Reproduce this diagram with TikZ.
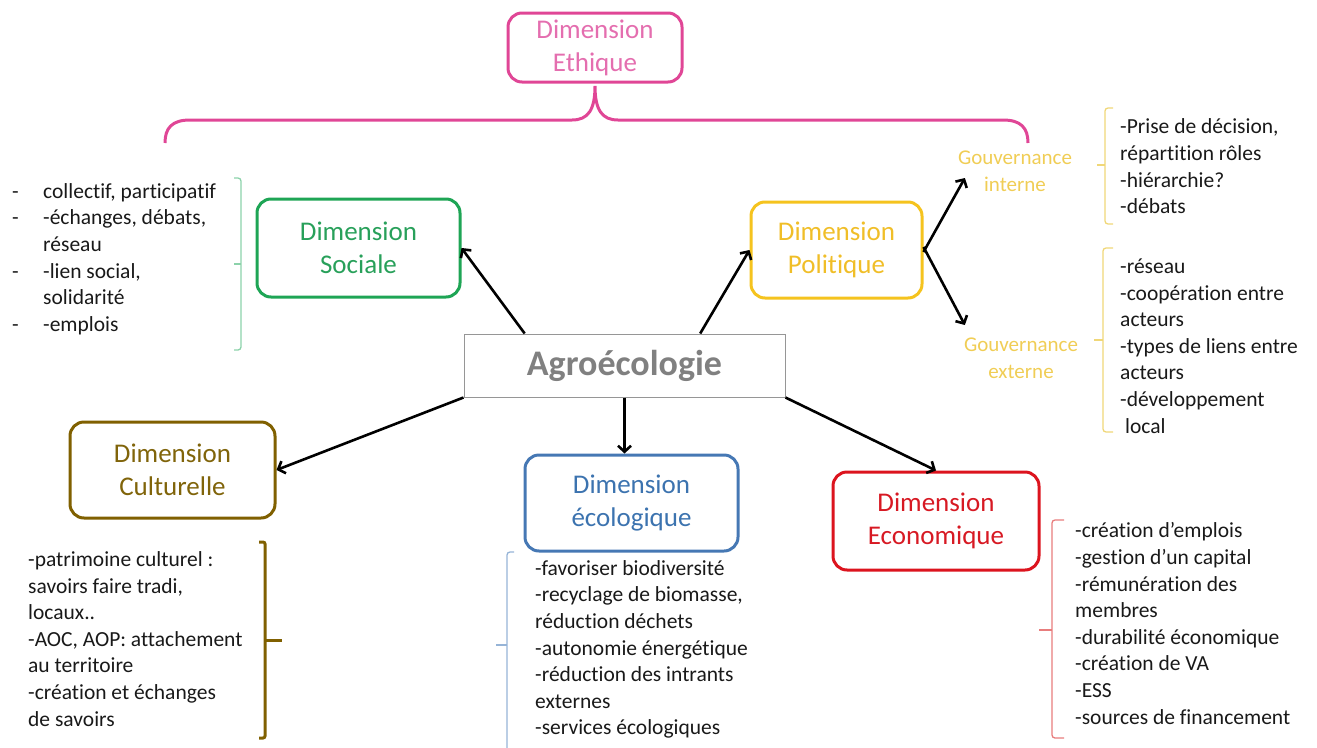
\documentclass[tikz,border=0pt]{standalone}
\usepackage{fontspec}
\setmainfont[Ligatures={NoCommon}]{Carlito}
\usetikzlibrary{arrows.meta,calc}

\definecolor{ethline}{RGB}{224,70,150}
\definecolor{ethtext}{RGB}{228,110,175}
\definecolor{socline}{RGB}{30,165,85}
\definecolor{soctext}{RGB}{40,160,90}
\definecolor{socbr}{RGB}{140,210,170}
\definecolor{polline}{RGB}{245,195,30}
\definecolor{poltext}{RGB}{240,190,40}
\definecolor{govtext}{RGB}{240,205,85}
\definecolor{polbr}{RGB}{240,215,120}
\definecolor{cultline}{RGB}{128,96,0}
\definecolor{culttext}{RGB}{128,100,10}
\definecolor{ecolline}{RGB}{70,120,180}
\definecolor{ecoltext}{RGB}{60,115,175}
\definecolor{ecolbr}{RGB}{150,180,215}
\definecolor{ecoline}{RGB}{220,20,30}
\definecolor{ecotext}{RGB}{215,25,35}
\definecolor{ecobr}{RGB}{232,125,125}
\definecolor{agroline}{RGB}{150,150,150}
\definecolor{agrotext}{RGB}{128,128,128}
\definecolor{listtext}{RGB}{25,25,25}

\newcommand{\dashitem}{\makebox[31pt][l]{-}}
\newcommand{\contitem}{\makebox[31pt][l]{}}

\begin{document}
\begin{tikzpicture}[x=1pt,y=-1pt,
  dimbox/.style={draw, rounded corners=14pt, line width=3pt, align=center,
    inner sep=0pt, font=\fontsize{27}{33}\selectfont},
  govlabel/.style={align=center, inner sep=0pt, text=govtext,
    font=\fontsize{21}{27}\selectfont},
  itemlist/.style={anchor=west, align=left, inner sep=0pt, text=listtext,
    font=\fontsize{21.5}{26.6}\selectfont},
  arr/.style={draw=black, line width=2.6pt, -{Straight Barb[length=6pt,width=13pt]}},
  lightbr/.style={line width=1.3pt, rounded corners=3pt},
]
\useasboundingbox (0,0) rectangle (1317,747);

% central concept
\node[draw=agroline, line width=1pt, minimum width=321pt, minimum height=63pt,
      inner sep=0pt, text=agrotext, font=\fontsize{36}{40}\selectfont\bfseries]
      (agro) at (624.5,365.5) {Agroécologie};

% dimensions
\node[dimbox, draw=ethline, text=ethtext, minimum width=174pt, minimum height=69pt]
      (eth) at (595,47.5) {Dimension\\Ethique};
\node[dimbox, draw=socline, text=soctext, minimum width=203pt, minimum height=98pt]
      (soc) at (358.5,248) {Dimension\\Sociale};
\node[dimbox, draw=polline, text=poltext, minimum width=171pt, minimum height=96pt]
      (pol) at (836.5,250) {Dimension\\Politique};
\node[dimbox, draw=cultline, text=culttext, minimum width=205pt, minimum height=96pt]
      (cult) at (172.5,470) {Dimension\\Culturelle};
\node[dimbox, draw=ecolline, text=ecoltext, minimum width=213pt, minimum height=96pt]
      (ecol) at (631.5,503) {Dimension\\écologique};
\node[dimbox, draw=ecoline, text=ecotext, minimum width=206pt, minimum height=98pt]
      (eco) at (936,521) {Dimension\\Economique};

% governance labels
\node[govlabel] (gint) at (1015,171) {Gouvernance\\interne};
\node[govlabel] (gext) at (1021,358) {Gouvernance\\externe};

% arrows from the central concept
\draw[arr] ($(agro.north west)!0.19!(agro.north east)$) -- (soc.east);
\draw[arr] ($(agro.north west)!0.735!(agro.north east)$) -- (pol.west);
\draw[arr] (agro.south) -- (agro.south |- ecol.north);
\draw[arr] (agro.south west) -- (cult.east);
\draw[arr] (agro.south east) -- (eco.north);
\draw[arr] ([yshift=-2pt]pol.east) -- ([shift={(7,7)}]gint.west);
\draw[arr] ([yshift=3pt]pol.east) -- ([shift={(1,-33)}]gext.west);

% ethical brace spanning the dimensions
\draw[ethline, line width=3pt]
  (165,143) .. controls (165,128) and (172,120) .. (190,120)
  -- (572,120) .. controls (588,120) and (595,110) .. (595,86)
  .. controls (595,110) and (602,120) .. (618,120)
  -- (1003,120) .. controls (1021,120) and (1028,128) .. (1028,143);

% lists
\node[itemlist] (soclist) at (12,259)
  {\dashitem collectif, participatif\\
   \dashitem -échanges, débats,\\
   \contitem réseau\\
   \dashitem -lien social,\\
   \contitem solidarité\\
   \dashitem -emplois};
\draw[socbr, lightbr] (234,178) -- (241,178) -- (241,350) -- (234,350);
\draw[socbr, lightbr] (241,264) -- (234,264);

\node[itemlist] (intlist) at (1120,166.5)
  {-Prise de décision,\\
   répartition rôles\\
   -hiérarchie?\\
   -débats};
\draw[polbr, lightbr] (1113,108) -- (1105,108) -- (1105,224) -- (1113,224);
\draw[polbr, lightbr] (1105,165) -- (1097,165);

\node[itemlist] (extlist) at (1120,346)
  {-réseau\\
   -coopération entre\\
   acteurs\\
   -types de liens entre\\
   acteurs\\
   -développement\\
   \hspace*{5pt}local};
\draw[polbr, lightbr] (1113,248) -- (1103,248) -- (1103,432) -- (1113,432);
\draw[polbr, lightbr] (1103,340) -- (1094,340);

\node[itemlist] (cultlist) at (28,639)
  {-patrimoine culturel :\\
   savoirs faire tradi,\\
   locaux..\\
   -AOC, AOP: attachement\\
   au territoire\\
   -création et échanges\\
   de savoirs};
\draw[cultline, line width=3pt, rounded corners=2pt]
  (259,542) -- (265,542) -- (265,738) -- (259,738);
\draw[cultline, line width=3pt] (265,640) -- (282,640);

\node[itemlist] (ecollist) at (535,649.5)
  {-favoriser biodiversité\\
   -recyclage de biomasse,\\
   réduction déchets\\
   -autonomie énergétique\\
   -réduction des intrants\\
   externes\\
   -services écologiques};
\draw[ecolbr, lightbr] (514,552) -- (507,552) -- (507,752);
\draw[ecolbr, lightbr] (507,645) -- (496,645);

\node[itemlist] (ecolist) at (1075,623.5)
  {-création d’emplois\\
   -gestion d’un capital\\
   -rémunération des\\
   membres\\
   -durabilité économique\\
   -création de VA\\
   -ESS\\
   -sources de financement};
\draw[ecobr, lightbr] (1064,520) -- (1052,520) -- (1052,738) -- (1064,738);
\draw[ecobr, lightbr] (1052,630) -- (1039,630);
\end{tikzpicture}
\end{document}
